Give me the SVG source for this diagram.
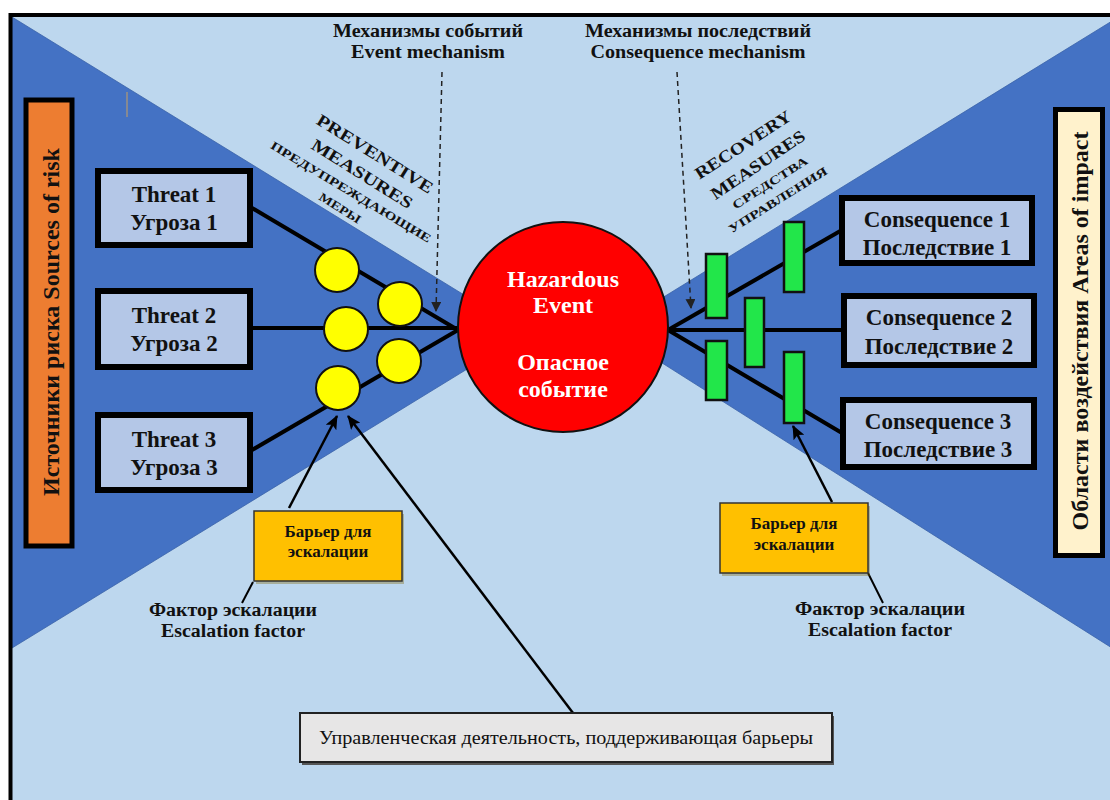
<svg xmlns="http://www.w3.org/2000/svg" width="1110" height="800" viewBox="0 0 1110 800">
<defs>
<style>
.serif{font-family:"Liberation Serif","Times New Roman",serif;}
.b{font-weight:bold;}
.box{fill:#B4C7E7;stroke:#000;stroke-width:6;}
.tb{font-family:"Liberation Serif",serif;font-weight:bold;font-size:23px;fill:#111;text-anchor:middle;}
.lbl{font-family:"Liberation Serif",serif;font-weight:bold;font-size:18.5px;fill:#111;text-anchor:middle;}
.rot{font-family:"Liberation Serif",serif;font-weight:bold;fill:#111;text-anchor:middle;dominant-baseline:central;}
.ball{fill:#FFFF00;stroke:#111;stroke-width:2;}
.bar{fill:#22E64A;stroke:#111;stroke-width:2.5;}
.conn{stroke:#000;stroke-width:4;fill:none;}
.arr{stroke:#000;stroke-width:2.5;fill:none;marker-end:url(#ah);}
.dash{stroke:#222;stroke-width:1.5;stroke-dasharray:5,4;fill:none;marker-end:url(#dh);}
.esc{fill:#FFC000;stroke:#333;stroke-width:1.5;}
</style>
<marker id="ah" markerUnits="userSpaceOnUse" markerWidth="14" markerHeight="12" refX="13" refY="6" orient="auto">
<path d="M0,0 L14,6 L0,12 L3,6 z" fill="#000"/>
</marker>
<marker id="dh" markerUnits="userSpaceOnUse" markerWidth="10" markerHeight="10" refX="9" refY="5" orient="auto">
<path d="M0,0 L10,5 L0,10 z" fill="#222"/>
</marker>
</defs>
<rect x="0" y="0" width="1110" height="800" fill="#FFFFFF"/>
<g id="background">
<rect x="10" y="15" width="1110" height="800" fill="#BDD7EE"/>
<polygon points="12,17 526,333 12,648" fill="#4472C4" stroke="#3A62A8" stroke-width="0.8"/>
<polygon points="1112,21 610,330 1112,648" fill="#4472C4" stroke="#3A62A8" stroke-width="0.8"/>
<line x1="127" y1="92" x2="127" y2="117" stroke="#C8A060" stroke-width="1"/>
<path d="M10.5,800 L10.5,15 L1112,15" fill="none" stroke="#000" stroke-width="4"/>
</g>
<g id="connectors">
<line class="conn" x1="252" y1="208" x2="458" y2="330"/>
<line class="conn" x1="252" y1="328" x2="458" y2="328"/>
<line class="conn" x1="252" y1="450" x2="458" y2="330"/>
<line class="conn" x1="668" y1="330" x2="842" y2="230"/>
<line class="conn" x1="668" y1="330" x2="842" y2="330"/>
<line class="conn" x1="668" y1="330" x2="842" y2="433"/>
<line class="dash" x1="442" y1="72" x2="436" y2="311"/>
<line class="dash" x1="677" y1="72" x2="691" y2="308"/>
<line class="arr" x1="289" y1="508" x2="337" y2="416"/>
<line class="arr" x1="573" y1="713" x2="348" y2="416"/>
<line class="arr" x1="832" y1="502" x2="793" y2="426"/>
<line x1="253" y1="582" x2="242" y2="603" stroke="#000" stroke-width="2"/>
<line x1="868" y1="573" x2="883" y2="603" stroke="#000" stroke-width="2"/>
</g>
<g id="sources">
<rect x="26" y="100" width="46" height="446" fill="#ED7D31" stroke="#000" stroke-width="5"/>
<text class="serif b" font-size="24" fill="#111" text-anchor="middle" transform="translate(59,322) rotate(-90)">Источники риска Sources of risk</text>
</g>
<g id="impact">
<rect x="1055.5" y="109.5" width="47" height="446" fill="#FFF2CC" stroke="#000" stroke-width="5"/>
<text class="serif b" font-size="24" fill="#111" text-anchor="middle" transform="translate(1088,331) rotate(-90)">Области воздействия Areas of impact</text>
</g>
<g id="threat1"><rect class="box" x="98" y="171" width="152" height="74"/><text class="tb" x="174" y="202">Threat 1</text><text class="tb" x="174" y="230">Угроза 1</text></g>
<g id="threat2"><rect class="box" x="98" y="291" width="152" height="76"/><text class="tb" x="174" y="323">Threat 2</text><text class="tb" x="174" y="351">Угроза 2</text></g>
<g id="threat3"><rect class="box" x="98" y="415" width="152" height="75"/><text class="tb" x="174" y="447">Threat 3</text><text class="tb" x="174" y="475">Угроза 3</text></g>
<g id="consequence1"><rect class="box" x="842" y="198" width="190" height="65"/><text class="tb" x="937" y="227">Consequence 1</text><text class="tb" x="937" y="255">Последствие 1</text></g>
<g id="consequence2"><rect class="box" x="844" y="296" width="190" height="69"/><text class="tb" x="939" y="325">Consequence 2</text><text class="tb" x="939" y="354">Последствие 2</text></g>
<g id="consequence3"><rect class="box" x="843" y="400" width="191" height="67"/><text class="tb" x="938" y="429">Consequence 3</text><text class="tb" x="938" y="457">Последствие 3</text></g>
<g id="preventive-barriers">
<circle class="ball" cx="337" cy="270" r="22"/>
<circle class="ball" cx="400" cy="304" r="22"/>
<circle class="ball" cx="346" cy="329" r="22"/>
<circle class="ball" cx="399" cy="361" r="22"/>
<circle class="ball" cx="338" cy="388" r="22"/>
</g>
<g id="recovery-barriers">
<rect class="bar" x="706" y="254" width="21" height="64"/>
<rect class="bar" x="784" y="222" width="20" height="70"/>
<rect class="bar" x="745" y="298" width="19" height="69"/>
<rect class="bar" x="706" y="341" width="21" height="59"/>
<rect class="bar" x="784" y="352" width="20" height="71"/>
</g>
<g id="hazardous-event">
<circle cx="563" cy="327" r="105" fill="#FF0000" stroke="#111" stroke-width="2"/>
<text class="serif b" font-size="24" fill="#FFFFFF" text-anchor="middle" x="563" y="287">Hazardous</text>
<text class="serif b" font-size="24" fill="#FFFFFF" text-anchor="middle" x="563" y="313">Event</text>
<text class="serif b" font-size="24" fill="#FFFFFF" text-anchor="middle" x="563" y="370">Опасное</text>
<text class="serif b" font-size="24" fill="#FFFFFF" text-anchor="middle" x="563" y="397">событие</text>
</g>
<g id="event-mechanism"><text class="lbl" x="428" y="37" textLength="190" lengthAdjust="spacingAndGlyphs">Механизмы событий</text><text class="lbl" x="428" y="58" textLength="154" lengthAdjust="spacingAndGlyphs">Event mechanism</text></g>
<g id="consequence-mechanism"><text class="lbl" x="698" y="37" textLength="226" lengthAdjust="spacingAndGlyphs">Механизмы последствий</text><text class="lbl" x="698" y="58" textLength="215" lengthAdjust="spacingAndGlyphs">Consequence mechanism</text></g>
<g id="preventive-label">
<text class="rot" font-size="17" transform="translate(375,154) rotate(32)" textLength="134" lengthAdjust="spacingAndGlyphs">PREVENTIVE</text>
<text class="rot" font-size="17" transform="translate(362,174) rotate(32)" textLength="116" lengthAdjust="spacingAndGlyphs">MEASURES</text>
<text class="rot" font-size="12" transform="translate(351,192) rotate(31)" textLength="185" lengthAdjust="spacingAndGlyphs">ПРЕДУПРЕЖДАЮЩИЕ</text>
<text class="rot" font-size="12" transform="translate(340,208) rotate(32)" textLength="47" lengthAdjust="spacingAndGlyphs">МЕРЫ</text>
</g>
<g id="recovery-label">
<text class="rot" font-size="17" transform="translate(743,145) rotate(-33)" textLength="111" lengthAdjust="spacingAndGlyphs">RECOVERY</text>
<text class="rot" font-size="17" transform="translate(758,165) rotate(-34)" textLength="110" lengthAdjust="spacingAndGlyphs">MEASURES</text>
<text class="rot" font-size="12" transform="translate(770,183) rotate(-32.5)" textLength="87" lengthAdjust="spacingAndGlyphs">СРЕДСТВА</text>
<text class="rot" font-size="12" transform="translate(778,200) rotate(-32)" textLength="114" lengthAdjust="spacingAndGlyphs">УПРАВЛЕНИЯ</text>
</g>
<g id="escalation-barrier-left">
<rect x="256" y="514" width="148" height="70" fill="#7F6000" opacity="0.35"/>
<rect class="esc" x="254" y="511" width="148" height="70"/>
<text class="serif b" font-size="17" fill="#111" text-anchor="middle" x="328" y="537">Барьер для</text>
<text class="serif b" font-size="17" fill="#111" text-anchor="middle" x="328" y="557">эскалации</text>
</g>
<g id="escalation-barrier-right">
<rect x="722" y="506" width="148" height="70" fill="#7F6000" opacity="0.35"/>
<rect class="esc" x="720" y="503" width="148" height="70"/>
<text class="serif b" font-size="17" fill="#111" text-anchor="middle" x="794" y="529">Барьер для</text>
<text class="serif b" font-size="17" fill="#111" text-anchor="middle" x="794" y="550">эскалации</text>
</g>
<g id="escalation-factor-left"><text class="lbl" x="233" y="616" textLength="168" lengthAdjust="spacingAndGlyphs">Фактор эскалации</text><text class="lbl" x="233" y="637" textLength="144" lengthAdjust="spacingAndGlyphs">Escalation factor</text></g>
<g id="escalation-factor-right"><text class="lbl" x="880" y="615" textLength="170" lengthAdjust="spacingAndGlyphs">Фактор эскалации</text><text class="lbl" x="880" y="636" textLength="144" lengthAdjust="spacingAndGlyphs">Escalation factor</text></g>
<g id="management">
<rect x="302" y="716" width="532" height="49" fill="#555"/>
<rect x="300" y="713" width="532" height="49" fill="#E7E6E6" stroke="#222" stroke-width="2"/>
<text class="serif" font-size="19" fill="#111" text-anchor="middle" x="566" y="744" textLength="494" lengthAdjust="spacingAndGlyphs">Управленческая деятельность, поддерживающая барьеры</text>
</g>
</svg>
